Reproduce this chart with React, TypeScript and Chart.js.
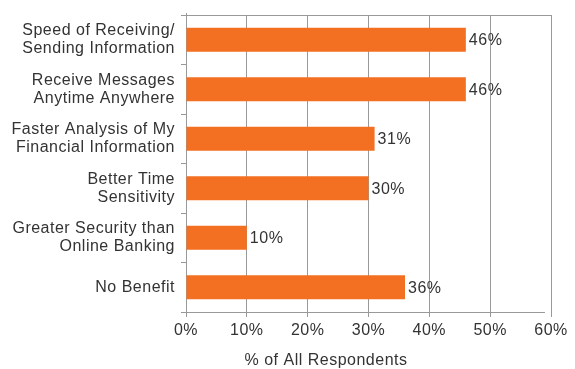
import React, { useEffect, useRef } from "react";
import { Chart, registerables } from "chart.js";

Chart.register(...registerables);

const categories: (string | string[])[] = [
  ["Speed of Receiving/", "Sending Information"],
  ["Receive Messages", "Anytime Anywhere"],
  ["Faster Analysis of My", "Financial Information"],
  ["Better Time", "Sensitivity"],
  ["Greater Security than", "Online Banking"],
  "No Benefit",
];
const values = [46, 46, 31, 30, 10, 36];
const xTicks = [0, 10, 20, 30, 40, 50, 60];
const axisTitle = "% of All Respondents";

const FONT = "'Liberation Sans', Arial, sans-serif";
const GRID = "#999999";
const TEXT = "#333333";
const BAR = "#F36F21";
const SPACING = "0.5px";

export default function App() {
  const ref = useRef<HTMLCanvasElement | null>(null);

  useEffect(() => {
    document.body.style.margin = "0";
    const canvas = ref.current;
    if (!canvas) return;

    const extras = {
      id: "extras",
      beforeInit(chart: any) {
        chart.ctx.letterSpacing = SPACING;
      },
      beforeUpdate(chart: any) {
        chart.ctx.letterSpacing = SPACING;
      },
      beforeDraw(chart: any) {
        chart.ctx.letterSpacing = SPACING;
      },
      afterDatasetsDraw(chart: any) {
        const ctx = chart.ctx;
        const meta = chart.getDatasetMeta(0);
        ctx.save();
        ctx.font = `16px ${FONT}`;
        ctx.fillStyle = TEXT;
        ctx.textAlign = "left";
        ctx.textBaseline = "middle";
        meta.data.forEach((bar: any, i: number) => {
          ctx.fillText(`${values[i]}%`, bar.x + 3, bar.y + 1);
        });
        ctx.restore();
      },
      afterDraw(chart: any) {
        const ctx = chart.ctx;
        const a = chart.chartArea;
        ctx.save();
        ctx.strokeStyle = GRID;
        ctx.lineWidth = 1;
        ctx.beginPath();
        ctx.moveTo(a.left, a.top + 0.5);
        ctx.lineTo(a.right, a.top + 0.5);
        ctx.moveTo(a.left, a.bottom + 0.5);
        ctx.lineTo(a.right - 6, a.bottom + 0.5);
        ctx.moveTo(a.left + 0.5, a.top - 2);
        ctx.lineTo(a.left + 0.5, a.top);
        ctx.stroke();
        ctx.font = `16px ${FONT}`;
        ctx.fillStyle = TEXT;
        ctx.textAlign = "center";
        ctx.textBaseline = "alphabetic";
        ctx.fillText(axisTitle, 326, 365);
        ctx.restore();
      },
    };

    const chart = new Chart(canvas, {
      type: "bar",
      data: {
        labels: categories,
        datasets: [
          {
            data: values,
            backgroundColor: BAR,
            borderWidth: 0,
            barPercentage: 0.48,
            categoryPercentage: 1,
          },
        ],
      },
      options: {
        indexAxis: "y",
        animation: false,
        responsive: false,
        maintainAspectRatio: false,
        layout: { padding: { top: 12, right: 24, left: 0, bottom: 0 } },
        plugins: { legend: { display: false }, tooltip: { enabled: false } },
        scales: {
          x: {
            min: 0,
            max: 60,
            afterBuildTicks(scale: any) {
              scale.ticks = xTicks.map((v) => ({ value: v }));
            },
            afterFit(scale: any) {
              scale.height = 57;
            },
            ticks: {
              callback: (v: any) => `${v}%`,
              color: TEXT,
              font: { family: FONT, size: 16 },
              padding: 4,
              maxRotation: 0,
            },
            grid: { color: GRID, lineWidth: 1, tickLength: 5 },
            border: { display: false },
          },
          y: {
            afterFit(scale: any) {
              scale.width = 186;
            },
            ticks: {
              color: TEXT,
              font: { family: FONT, size: 16, lineHeight: 1.125 },
              padding: 6,
            },
            grid: { drawOnChartArea: false, color: GRID, tickLength: 5, offset: true },
            border: { color: GRID },
          },
        },
      },
      plugins: [extras],
    });

    return () => chart.destroy();
  }, []);

  return (
    <div style={{ position: "absolute", left: 0, top: 0, width: 575, height: 369 }}>
      <canvas ref={ref} width={575} height={369} style={{ width: 575, height: 369 }} />
    </div>
  );
}
